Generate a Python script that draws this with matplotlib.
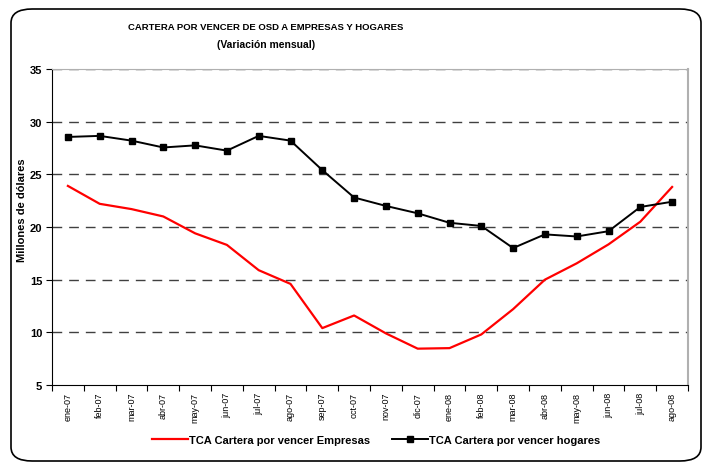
import matplotlib
matplotlib.use("Agg")
import matplotlib.pyplot as plt
from matplotlib.patches import FancyBboxPatch

plt.rcParams['font.family'] = ['Liberation Sans', 'DejaVu Sans']

meses = ["ene-07", "feb-07", "mar-07", "abr-07", "may-07", "jun-07", "jul-07",
         "ago-07", "sep-07", "oct-07", "nov-07", "dic-07", "ene-08", "feb-08",
         "mar-08", "abr-08", "may-08", "jun-08", "jul-08", "ago-08"]
empresas = [23.9, 22.2, 21.7, 21.0, 19.4, 18.3, 15.9, 14.6, 10.4, 11.6,
            9.9, 8.45, 8.5, 9.8, 12.2, 15.0, 16.55, 18.35, 20.5, 23.8]
hogares = [28.55, 28.65, 28.2, 27.55, 27.75, 27.25, 28.65, 28.2, 25.4, 22.8,
           22.0, 21.3, 20.4, 20.1, 18.0, 19.3, 19.1, 19.6, 21.9, 22.4]
yticks = [5, 10, 15, 20, 25, 30, 35]


def main():
    fig = plt.figure(figsize=(7.06, 4.64), dpi=100)

    # rounded frame around the chart
    box = FancyBboxPatch((11 / 706, 2 / 464), 690 / 706, 452 / 464,
                         boxstyle="round,pad=0,rounding_size=0.03",
                         transform=fig.transFigure, fill=False,
                         edgecolor="black", linewidth=1.2)
    fig.patches.append(box)

    ax = fig.add_axes([52 / 706, 1 - 386 / 464, 636 / 706, 316 / 464])
    x = list(range(len(meses)))

    ax.plot(x, empresas, color="#ff0000", linewidth=1.6,
            label="TCA Cartera por vencer Empresas")
    ax.plot(x, hogares, color="black", linewidth=1.4, marker="s",
            markersize=5, label="TCA Cartera por vencer hogares")

    ax.set_xlim(-0.5, len(meses) - 0.5)
    ax.set_ylim(5, 35)
    ax.set_yticks(yticks)
    ax.set_yticklabels([str(v) for v in yticks], fontsize=8, fontweight="bold")
    for v in yticks[1:]:
        ax.axhline(v, color="#404040", linewidth=1, linestyle=(0, (7, 5)),
                   zorder=0)

    ax.set_xticks([i - 0.5 for i in range(len(meses) + 1)])
    ax.set_xticklabels([])
    ax.set_xticks(x, minor=True)
    ax.set_xticklabels(meses, minor=True, rotation=90, fontsize=6.5)
    ax.tick_params(axis="x", which="major", direction="out", length=4, width=0.8)
    ax.tick_params(axis="x", which="minor", length=0, pad=5)
    ax.tick_params(axis="y", direction="out", length=4, width=0.8, pad=3)

    ax.spines["left"].set_color("black")
    ax.spines["bottom"].set_color("black")
    ax.spines["top"].set_color("#b0b0b0")
    ax.spines["right"].set_color("#b0b0b0")
    ax.spines["right"].set_linewidth(1.5)

    ax.set_ylabel("Millones de dólares", fontsize=8, fontweight="bold")
    ax.yaxis.set_label_coords(-0.04, 0.557)

    fig.text(266 / 706, 1 - 28 / 464,
             "CARTERA POR VENCER DE OSD A EMPRESAS Y HOGARES",
             ha="center", va="center", fontsize=6.8, fontweight="bold")
    fig.text(266 / 706, 1 - 45 / 464, "(Variación mensual)",
             ha="center", va="center", fontsize=7.5, fontweight="bold")

    fig.legend(loc="center", bbox_to_anchor=(376 / 706, 1 - 441 / 464),
               ncol=2, frameon=False, handlelength=3.2,
               columnspacing=2.0, handletextpad=0.1,
               prop={"weight": "bold", "size": 8})

    fig.savefig("out.png", dpi=100)


if __name__ == "__main__":
    main()
